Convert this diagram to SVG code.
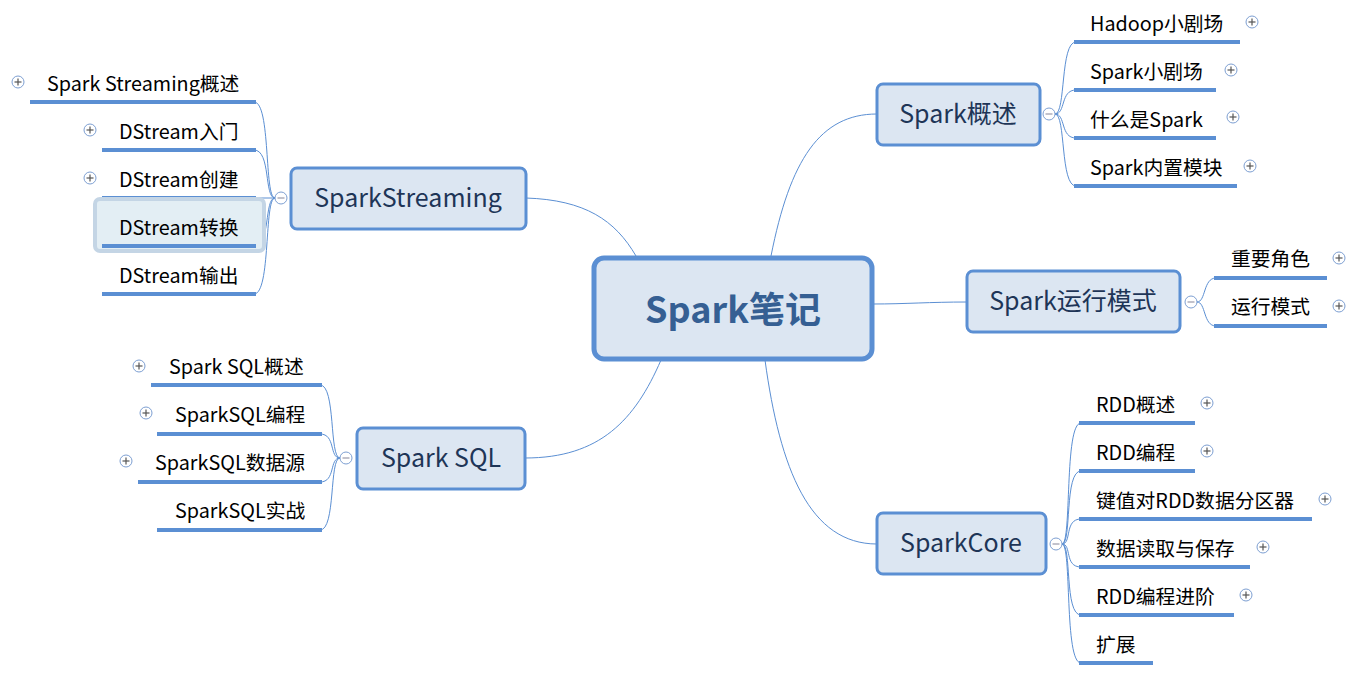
<svg xmlns="http://www.w3.org/2000/svg" width="1358" height="680" viewBox="0 0 1358 680">
<defs>
<style>
text{font-family:"Microsoft YaHei","Noto Sans CJK SC","Noto Sans",sans-serif}
.node{fill:#dce6f2;stroke:#5b8fd3;stroke-width:3}
.ntxt{font-size:25px;fill:#1e3557;text-anchor:middle}
.ctxt{font-size:36px;font-weight:bold;fill:#355f93;text-anchor:middle}
.bar{stroke:#5b8fd3;stroke-width:4}
.ltxt{font-size:19.8px;fill:#000}
.con{fill:none;stroke:#5b8fd3;stroke-width:1}
.tog{fill:#fff;stroke:#7d9fd2;stroke-width:1}
.sym{stroke:#555;stroke-width:1.2}
</style>
<g id="plus"><circle class="tog" r="6"/><line class="sym" x1="-3.5" y1="0" x2="3.5" y2="0"/><line class="sym" x1="0" y1="-3.5" x2="0" y2="3.5"/></g>
<g id="minus"><circle class="tog" r="6"/><line class="sym" x1="-3.5" y1="0" x2="3.5" y2="0" style="stroke:#99a"/></g>
</defs>
<rect width="1358" height="680" fill="#fff"/>

<g id="connectors">
<path class="con" d="M526 198 C585 200 615 220 636 256"/>
<path class="con" d="M525 458 C600 458 635 420 661 360"/>
<path class="con" d="M877 114 C820 114 790 160 771 256"/>
<path class="con" d="M967 302 C930 302 905 304 873 304"/>
<path class="con" d="M877 544 C810 544 780 470 765 360"/>
<path class="con" d="M1055 114 C1066 114 1060 42 1076 42"/>
<path class="con" d="M1055 114 C1066 114 1060 90 1076 90"/>
<path class="con" d="M1055 114 C1066 114 1060 138 1076 138"/>
<path class="con" d="M1055 114 C1066 114 1060 186 1076 186"/>
<path class="con" d="M1197 302 C1206 302 1203 278 1216 278"/>
<path class="con" d="M1197 302 C1206 302 1203 326 1216 326"/>
<path class="con" d="M1062 544 C1072 544 1064 423 1081 423"/>
<path class="con" d="M1062 544 C1072 544 1064 471 1081 471"/>
<path class="con" d="M1062 544 C1072 544 1064 519 1081 519"/>
<path class="con" d="M1062 544 C1072 544 1064 567 1081 567"/>
<path class="con" d="M1062 544 C1072 544 1064 615 1081 615"/>
<path class="con" d="M1062 544 C1072 544 1064 663 1081 663"/>
<path class="con" d="M275 198 C264 198 271 102 254 102"/>
<path class="con" d="M275 198 C264 198 271 150 254 150"/>
<path class="con" d="M275 198 L254 198"/>
<path class="con" d="M275 198 C264 198 271 246 254 246"/>
<path class="con" d="M275 198 C264 198 271 294 254 294"/>
<path class="con" d="M340 458 C329 458 336 385 320 385"/>
<path class="con" d="M340 458 C329 458 336 434 320 434"/>
<path class="con" d="M340 458 C329 458 336 482 320 482"/>
<path class="con" d="M340 458 C329 458 336 530 320 530"/>
</g>

<g id="center">
<rect x="594" y="258" width="278" height="101" rx="10" fill="#dce6f2" stroke="#5b8fd3" stroke-width="5"/>
<text class="ctxt" x="733" y="323">Spark笔记</text>
</g>

<g id="spark-overview">
<rect class="node" x="877" y="84" width="163" height="61" rx="6"/>
<text class="ntxt" x="958" y="123">Spark概述</text>
<use href="#minus" x="1049" y="114"/>
</g>
<g id="ov-1"><line class="bar" x1="1074" y1="42" x2="1240" y2="42"/><text class="ltxt" x="1090" y="31">Hadoop小剧场</text><use href="#plus" x="1252" y="22"/></g>
<g id="ov-2"><line class="bar" x1="1074" y1="90" x2="1216" y2="90"/><text class="ltxt" x="1090" y="79">Spark小剧场</text><use href="#plus" x="1231" y="70"/></g>
<g id="ov-3"><line class="bar" x1="1074" y1="138" x2="1216" y2="138"/><text class="ltxt" x="1090" y="127">什么是Spark</text><use href="#plus" x="1233" y="117"/></g>
<g id="ov-4"><line class="bar" x1="1074" y1="186" x2="1237" y2="186"/><text class="ltxt" x="1090" y="175">Spark内置模块</text><use href="#plus" x="1250" y="166"/></g>

<g id="run-mode">
<rect class="node" x="967" y="271" width="213" height="61" rx="6"/>
<text class="ntxt" x="1073" y="310">Spark运行模式</text>
<use href="#minus" x="1191" y="302"/>
</g>
<g id="rm-1"><line class="bar" x1="1214" y1="278" x2="1327" y2="278"/><text class="ltxt" x="1231" y="266">重要角色</text><use href="#plus" x="1339" y="258"/></g>
<g id="rm-2"><line class="bar" x1="1214" y1="326" x2="1327" y2="326"/><text class="ltxt" x="1231" y="314">运行模式</text><use href="#plus" x="1339" y="306"/></g>

<g id="spark-core">
<rect class="node" x="877" y="513" width="169" height="61" rx="6"/>
<text class="ntxt" x="961" y="552">SparkCore</text>
<use href="#minus" x="1056" y="544"/>
</g>
<g id="sc-1"><line class="bar" x1="1079" y1="423" x2="1195" y2="423"/><text class="ltxt" x="1096" y="412">RDD概述</text><use href="#plus" x="1207" y="403"/></g>
<g id="sc-2"><line class="bar" x1="1079" y1="471" x2="1195" y2="471"/><text class="ltxt" x="1096" y="460">RDD编程</text><use href="#plus" x="1207" y="451"/></g>
<g id="sc-3"><line class="bar" x1="1079" y1="519" x2="1312" y2="519"/><text class="ltxt" x="1096" y="508">键值对RDD数据分区器</text><use href="#plus" x="1325" y="499"/></g>
<g id="sc-4"><line class="bar" x1="1079" y1="567" x2="1250" y2="567"/><text class="ltxt" x="1096" y="556">数据读取与保存</text><use href="#plus" x="1263" y="547"/></g>
<g id="sc-5"><line class="bar" x1="1079" y1="615" x2="1234" y2="615"/><text class="ltxt" x="1096" y="604">RDD编程进阶</text><use href="#plus" x="1246" y="595"/></g>
<g id="sc-6"><line class="bar" x1="1079" y1="663" x2="1153" y2="663"/><text class="ltxt" x="1096" y="652">扩展</text></g>

<g id="spark-streaming">
<rect class="node" x="291" y="168" width="235" height="61" rx="6"/>
<text class="ntxt" x="408" y="207">SparkStreaming</text>
<use href="#minus" x="281" y="198"/>
</g>
<g id="ss-1"><line class="bar" x1="30" y1="102" x2="256" y2="102"/><text class="ltxt" x="47" y="91">Spark Streaming概述</text><use href="#plus" x="18" y="82"/></g>
<g id="ss-2"><line class="bar" x1="102" y1="150" x2="256" y2="150"/><text class="ltxt" x="119" y="139">DStream入门</text><use href="#plus" x="90" y="130"/></g>
<g id="ss-3"><line class="bar" x1="102" y1="198" x2="256" y2="198"/><text class="ltxt" x="119" y="187">DStream创建</text><use href="#plus" x="90" y="178"/></g>
<g id="ss-4"><rect x="95" y="199" width="169" height="52" rx="5" fill="#e3eef4" stroke="#c4d5e5" stroke-width="4"/><line class="bar" x1="102" y1="246" x2="256" y2="246"/><text class="ltxt" x="119" y="235" fill="#222">DStream转换</text></g>
<g id="ss-5"><line class="bar" x1="102" y1="294" x2="256" y2="294"/><text class="ltxt" x="119" y="283">DStream输出</text></g>

<g id="spark-sql">
<rect class="node" x="357" y="428" width="168" height="61" rx="6"/>
<text class="ntxt" x="441" y="467">Spark SQL</text>
<use href="#minus" x="346" y="458"/>
</g>
<g id="sql-1"><line class="bar" x1="151" y1="385" x2="322" y2="385"/><text class="ltxt" x="169" y="374">Spark SQL概述</text><use href="#plus" x="139" y="366"/></g>
<g id="sql-2"><line class="bar" x1="157" y1="434" x2="322" y2="434"/><text class="ltxt" x="175" y="422">SparkSQL编程</text><use href="#plus" x="146" y="413"/></g>
<g id="sql-3"><line class="bar" x1="138" y1="482" x2="322" y2="482"/><text class="ltxt" x="155" y="470">SparkSQL数据源</text><use href="#plus" x="126" y="461"/></g>
<g id="sql-4"><line class="bar" x1="157" y1="530" x2="322" y2="530"/><text class="ltxt" x="175" y="518">SparkSQL实战</text></g>
</svg>
